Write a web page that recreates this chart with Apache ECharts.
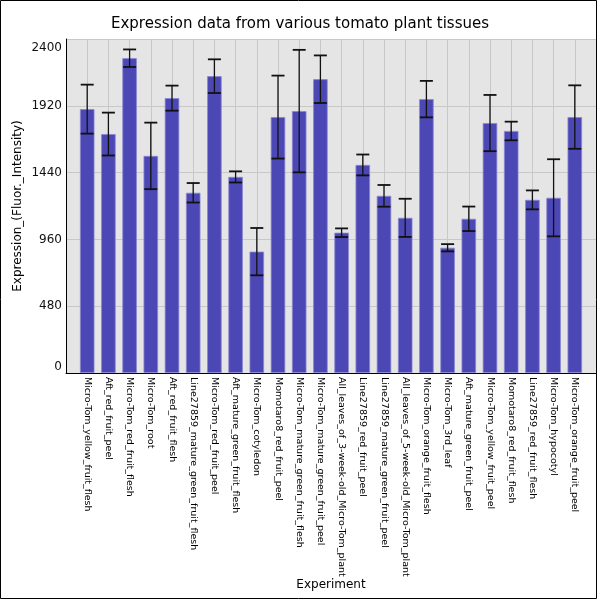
<!DOCTYPE html>
<html>
<head>
<meta charset="utf-8">
<script src="https://cdn.jsdelivr.net/npm/echarts@6/dist/echarts.min.js"></script>
<style>
  html, body { margin: 0; padding: 0; background: #fff; }
  #chart { width: 600px; height: 600px; }
</style>
</head>
<body>
<div id="chart"></div>
<script>
// samples along the x axis
var categories = [
  'Micro-Tom_yellow_fruit_flesh', 'Aft_red_fruit_peel', 'Micro-Tom_red_fruit_flesh',
  'Micro-Tom_root', 'Aft_red_fruit_flesh', 'Line27859_mature_green_fruit_flesh',
  'Micro-Tom_red_fruit_peel', 'Aft_mature_green_fruit_flesh', 'Micro-Tom_cotyledon',
  'Momotaro8_red_fruit_peel', 'Micro-Tom_mature_green_fruit_flesh', 'Micro-Tom_mature_green_fruit_peel',
  'All_leaves_of_3-week-old_Micro-Tom_plant', 'Line27859_red_fruit_peel', 'Line27859_mature_green_fruit_peel',
  'All_leaves_of_5-week-old_Micro-Tom_plant', 'Micro-Tom_orange_fruit_flesh', 'Micro-Tom_3rd_leaf',
  'Aft_mature_green_fruit_peel', 'Micro-Tom_yellow_fruit_peel', 'Momotaro8_red_fruit_flesh',
  'Line27859_red_fruit_flesh', 'Micro-Tom_hypocotyl', 'Micro-Tom_orange_fruit_peel'
];
// mean expression
var means = [1896, 1717, 2262, 1560, 1975, 1295, 2133, 1409, 872, 1839, 1882, 2111,
             1008, 1495, 1273, 1115, 1968, 900, 1108, 1796, 1739, 1244, 1259, 1839];
// error (half bar length)
var errors = [176, 154, 63, 239, 90, 70, 121, 40, 170, 298, 440, 171,
              31, 75, 78, 137, 131, 26, 88, 202, 67, 68, 277, 228];
var yTicks = [0, 480, 960, 1440, 1920, 2400];

var barData = [];
var errData = [];
for (var i = 0; i < means.length; i++) {
  barData.push([i, means[i]]);
  errData.push([i, means[i] - errors[i], means[i] + errors[i]]);
}

var font = 'DejaVu Sans';
var yMax = yTicks[yTicks.length - 1];
var myChart = echarts.init(document.getElementById('chart'));
var option = {
  animation: false,
  title: {
    text: 'Expression data from various tomato plant tissues',
    left: 'center', top: 12,
    textStyle: { fontFamily: font, fontSize: 15, fontWeight: 'normal', color: '#000' }
  },
  graphic: [{
    type: 'rect', silent: true, z: 100,
    shape: { x: 0.5, y: 0.5, width: 596, height: 598 },
    style: { fill: 'none', stroke: '#000', lineWidth: 1 }
  }],
  grid: {
    left: 66, right: 4, top: 39, bottom: 227,
    outerBoundsMode: 'none',
    show: true, backgroundColor: '#e5e5e5', borderWidth: 0
  },
  xAxis: {
    type: 'value', min: -1, max: 24, interval: 1,
    name: 'Experiment', nameLocation: 'middle', nameGap: 206, nameMoveOverlap: false,
    nameTextStyle: { fontFamily: font, fontSize: 12, color: '#000' },
    axisLine: { show: true, onZero: false, lineStyle: { color: '#000', width: 1 } },
    axisTick: { show: false },
    splitLine: { show: true, lineStyle: { color: '#c8c8c8', width: 1 } },
    axisLabel: {
      rotate: -90, margin: 4, fontFamily: font, fontSize: 9.5, color: '#000',
      showMinLabel: true, showMaxLabel: true,
      formatter: function (v) { return categories[v] || ''; }
    }
  },
  yAxis: {
    type: 'value', min: yTicks[0], max: yMax, interval: 480,
    name: 'Expression_(Fluor._Intensity)', nameLocation: 'middle', nameGap: 42, nameMoveOverlap: false,
    nameTextStyle: { fontFamily: font, fontSize: 12, color: '#000' },
    axisLine: { show: true, onZero: false, lineStyle: { color: '#000', width: 1 } },
    axisTick: { show: false },
    splitLine: { show: true, lineStyle: { color: '#c8c8c8', width: 1 } },
    axisLabel: {
      margin: 4, fontFamily: font, fontSize: 12, color: '#111', lineHeight: 12,
      verticalAlignMinLabel: 'bottom', verticalAlignMaxLabel: 'top',
      formatter: function (v) { return v === yMax ? '{hi|' + v + '}' : String(v); },
      rich: { hi: { fontFamily: font, fontSize: 12, color: '#111', lineHeight: 18 } }
    }
  },
  series: [
    {
      type: 'bar',
      data: barData,
      barWidth: 14.5,
      itemStyle: { color: '#4b47b5', borderColor: '#8a87d0', borderWidth: 0.8 }
    },
    {
      type: 'custom',
      data: errData,
      z: 5,
      renderItem: function (params, api) {
        var x = api.value(0);
        var lo = api.coord([x, api.value(1)]);
        var hi = api.coord([x, api.value(2)]);
        var cap = 6.5;
        var st = { stroke: '#111', lineWidth: 1.3 };
        var capSt = { stroke: '#111', lineWidth: 1.8 };
        return {
          type: 'group',
          children: [
            { type: 'line', shape: { x1: lo[0], y1: lo[1], x2: hi[0], y2: hi[1] }, style: st },
            { type: 'line', shape: { x1: hi[0] - cap, y1: hi[1], x2: hi[0] + cap, y2: hi[1] }, style: capSt },
            { type: 'line', shape: { x1: lo[0] - cap, y1: lo[1], x2: lo[0] + cap, y2: lo[1] }, style: capSt }
          ]
        };
      }
    }
  ]
};
myChart.setOption(option);
</script>
</body>
</html>
